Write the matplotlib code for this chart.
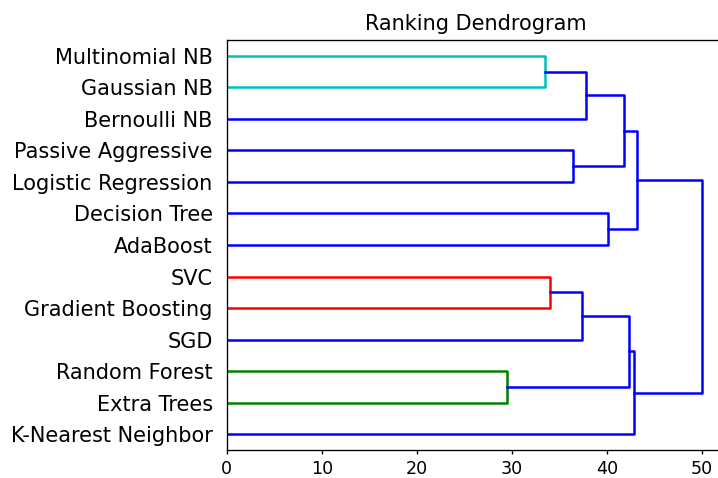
import numpy as np
import matplotlib
matplotlib.use("Agg")
import matplotlib.pyplot as plt

# leaves listed top to bottom
leaf_labels = ["Multinomial NB", "Gaussian NB", "Bernoulli NB",
               "Passive Aggressive", "Logistic Regression", "Decision Tree",
               "AdaBoost", "SVC", "Gradient Boosting", "SGD",
               "Random Forest", "Extra Trees", "K-Nearest Neighbor"]

# linkage: node ids 0..12 are leaves, 13.. are merges in order
merge_a = [0, 13, 3, 14, 5, 16, 7, 19, 10, 20, 22, 18]
merge_b = [1, 2, 4, 15, 6, 17, 8, 9, 11, 21, 12, 23]
merge_height = [33.5, 37.8, 36.4, 41.8, 40.1, 43.2, 34.0, 37.4, 29.5, 42.3, 42.8, 50.0]
link_colors = ["c", "b", "b", "b", "b", "b", "r", "b", "g", "b", "b", "b"]


def build_nodes():
    n = len(leaf_labels)
    ys = [10 * (n - i) - 5 for i in range(n)]
    hs = [0.0] * n
    for a, b, h in zip(merge_a, merge_b, merge_height):
        ys.append((ys[a] + ys[b]) / 2.0)
        hs.append(h)
    return ys, hs


def plot_dendrogram():
    fig = plt.figure(figsize=(718 / 120, 478 / 120), dpi=120)
    ax = fig.add_axes([0.3157, 0.0586, 1.011 - 0.3157, 0.9163 - 0.0586])
    ys, hs = build_nodes()
    for a, b, h, c in zip(merge_a, merge_b, merge_height, link_colors):
        ax.plot([hs[a], h, h, hs[b]], [ys[a], ys[a], ys[b], ys[b]],
                color=c, linewidth=1.5)
    n = len(leaf_labels)
    ax.set_yticks(ys[:n])
    ax.set_yticklabels(leaf_labels, fontsize=12.5)
    ax.tick_params(axis="y", length=0, pad=8.4)
    ax.set_ylim(0, 10 * n)
    ax.set_xlim(0, max(merge_height) * 1.05)
    ax.set_xticks([0, 10, 20, 30, 40, 50])
    ax.tick_params(axis="x", labelsize=10.5, length=2.5, pad=3.5)
    ax.set_title("Ranking Dendrogram", fontsize=12.5)
    fig.savefig("out.png", dpi=120)


plot_dendrogram()
